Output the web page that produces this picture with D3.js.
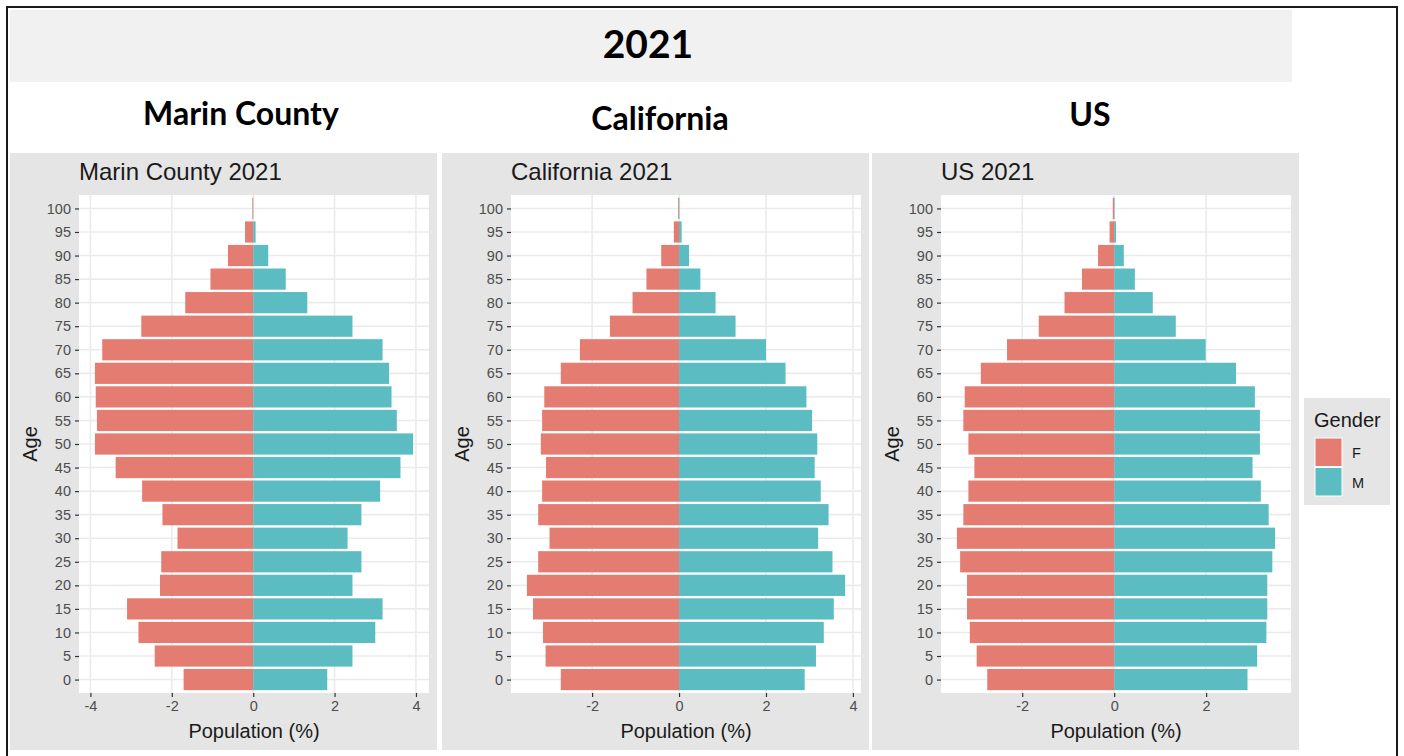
<!DOCTYPE html>
<html>
<head>
<meta charset="utf-8">
<script src="https://cdn.jsdelivr.net/npm/d3@7"></script>
<style>
  body { margin: 0; background: #fff; }
  text { font-family: "Liberation Sans", Arial, sans-serif; }
</style>
</head>
<body>
<div id="chart"></div>
<script>
var width  = 1404;
var height = 756;

// ------------- data: % of population per 5-year age group -------------
var year    = "2021";
var regions = ["Marin County", "California", "US"];
var genders = ["F", "M"];
var ages    = [0, 5, 10, 15, 20, 25, 30, 35, 40, 45, 50, 55, 60, 65, 70, 75, 80, 85, 90, 95, 100];

var marinF = [1.71, 2.42, 2.82, 3.10, 2.29, 2.26, 1.86, 2.23, 2.73, 3.38, 3.89, 3.84, 3.87, 3.89, 3.71, 2.75, 1.67, 1.05, 0.62, 0.20, 0.02];
var marinM = [1.82, 2.44, 3.00, 3.18, 2.44, 2.66, 2.32, 2.66, 3.12, 3.62, 3.93, 3.53, 3.40, 3.34, 3.18, 2.44, 1.33, 0.80, 0.37, 0.06, 0.005];

var californiaF = [2.72, 3.07, 3.13, 3.36, 3.50, 3.24, 2.98, 3.24, 3.15, 3.06, 3.18, 3.15, 3.10, 2.72, 2.28, 1.59, 1.07, 0.75, 0.41, 0.12, 0.02];
var californiaM = [2.89, 3.15, 3.33, 3.56, 3.82, 3.53, 3.20, 3.44, 3.26, 3.12, 3.18, 3.06, 2.93, 2.45, 2.00, 1.30, 0.84, 0.49, 0.23, 0.06, 0.01];

var usF = [2.76, 2.99, 3.14, 3.20, 3.20, 3.35, 3.42, 3.28, 3.17, 3.04, 3.17, 3.28, 3.25, 2.90, 2.33, 1.64, 1.08, 0.70, 0.35, 0.10, 0.03];
var usM = [2.90, 3.11, 3.31, 3.33, 3.33, 3.44, 3.50, 3.36, 3.19, 3.01, 3.17, 3.17, 3.06, 2.65, 1.99, 1.34, 0.84, 0.45, 0.21, 0.04, 0.01];

var xTickValues = [-4, -2, 0, 2, 4];

var seriesF = [marinF, californiaF, usF];
var seriesM = [marinM, californiaM, usM];

// ------------- layout -------------
var colorF = "#e47c71";
var colorM = "#5bbcc2";
var panelLeft  = [10, 442, 872];
var panelTop   = 153;
var panelWidth = 427;
var plotOffset = 69;     // gray edge -> white plot area
var plotWidth  = 350;
var plotTop    = 195;
var plotBottom = 693;

var svg = d3.select("#chart").append("svg")
    .attr("width", width)
    .attr("height", height);

// title band
svg.append("rect")
    .attr("x", 10).attr("y", 10)
    .attr("width", 1282).attr("height", 72)
    .attr("fill", "#f1f1f1");

svg.append("text")
    .attr("x", 648).attr("y", 58)
    .attr("text-anchor", "middle")
    .style("font-family", "Lato, sans-serif")
    .style("font-weight", "bold")
    .style("font-size", "39px")
    .attr("fill", "#000")
    .text(year);

// region headings
var headings = [
  {label: regions[0], x: 241, y: 125},
  {label: regions[1], x: 660, y: 130},
  {label: regions[2], x: 1090, y: 126}
];
svg.selectAll("text.heading")
    .data(headings)
    .enter()
  .append("text")
    .attr("class", "heading")
    .attr("x", function(d){ return d.x; })
    .attr("y", function(d){ return d.y; })
    .attr("text-anchor", "middle")
    .style("font-family", "Lato, sans-serif")
    .style("font-weight", "bold")
    .style("font-size", "32px")
    .attr("fill", "#000")
    .text(function(d){ return d.label; });

// shared y scale (age)
var yScale = d3.scaleLinear()
    .domain([-2.85, 102.85])
    .range([plotBottom, plotTop]);
var barHalf = 2.25;   // 0.9 of a 5-year band

for (var p = 0; p < 3; p++) {
  var left = panelLeft[p];
  var fVals = seriesF[p];
  var mVals = seriesM[p];

  var lo = -d3.max(fVals), hi = d3.max(mVals);
  var pad = (hi - lo) * 0.05;
  var xScale = d3.scaleLinear()
      .domain([lo - pad, hi + pad])
      .range([left + plotOffset, left + plotOffset + plotWidth]);
  var ticks = xTickValues.filter(function(t){ return t >= lo - pad && t <= hi + pad; });

  var g = svg.append("g");

  g.append("rect")
      .attr("x", left).attr("y", panelTop)
      .attr("width", panelWidth).attr("height", 597)
      .attr("fill", "#e5e5e5");

  g.append("rect")
      .attr("x", left + plotOffset).attr("y", plotTop)
      .attr("width", plotWidth).attr("height", plotBottom - plotTop)
      .attr("fill", "#fff");

  // gridlines
  g.selectAll("line.hgrid")
      .data(ages)
      .enter()
    .append("line")
      .attr("x1", left + plotOffset).attr("x2", left + plotOffset + plotWidth)
      .attr("y1", function(d){ return yScale(d); })
      .attr("y2", function(d){ return yScale(d); })
      .attr("stroke", "#ebebeb").attr("stroke-width", 1.6);

  g.selectAll("line.vgrid")
      .data(ticks)
      .enter()
    .append("line")
      .attr("y1", plotTop).attr("y2", plotBottom)
      .attr("x1", function(d){ return xScale(d); })
      .attr("x2", function(d){ return xScale(d); })
      .attr("stroke", "#ebebeb").attr("stroke-width", 1.6);

  // bars
  g.selectAll("rect.barF")
      .data(ages)
      .enter()
    .append("rect")
      .attr("x", function(d, i){ return xScale(-fVals[i]); })
      .attr("width", function(d, i){ return xScale(0) - xScale(-fVals[i]); })
      .attr("y", function(d){ return yScale(d + barHalf); })
      .attr("height", function(d){ return yScale(d - barHalf) - yScale(d + barHalf); })
      .attr("fill", colorF);

  g.selectAll("rect.barM")
      .data(ages)
      .enter()
    .append("rect")
      .attr("x", xScale(0))
      .attr("width", function(d, i){ return xScale(mVals[i]) - xScale(0); })
      .attr("y", function(d){ return yScale(d + barHalf); })
      .attr("height", function(d){ return yScale(d - barHalf) - yScale(d + barHalf); })
      .attr("fill", colorM);

  // axes
  var xAxis = g.append("g")
      .attr("transform", "translate(0," + plotBottom + ")")
      .call(d3.axisBottom(xScale).tickValues(ticks).tickSize(4).tickPadding(4).tickFormat(d3.format("d")));
  var yAxis = g.append("g")
      .attr("transform", "translate(" + (left + plotOffset) + ",0)")
      .call(d3.axisLeft(yScale).tickValues(ages).tickSize(4).tickPadding(4));

  [xAxis, yAxis].forEach(function(a){
    a.select(".domain").remove();
    a.selectAll(".tick line").attr("stroke", "#333").attr("stroke-width", 1.2);
    a.selectAll(".tick text")
        .attr("fill", "#4d4d4d")
        .style("font-size", "14.5px")
        .style("font-family", "'Liberation Sans', Arial, sans-serif");
  });
  xAxis.selectAll(".tick text").text(function(d){ return d < 0 ? "-" + Math.abs(d) : d; });

  // titles
  g.append("text")
      .attr("x", left + 69).attr("y", 180)
      .style("font-size", "24px")
      .attr("fill", "#1a1a1a")
      .text(regions[p] + " " + year);

  g.append("text")
      .attr("x", left + plotOffset + plotWidth / 2).attr("y", 738)
      .attr("text-anchor", "middle")
      .style("font-size", "20px")
      .attr("fill", "#1a1a1a")
      .text("Population (%)");

  g.append("text")
      .attr("transform", "translate(" + (left + 27) + "," + ((plotTop + plotBottom) / 2) + ") rotate(-90)")
      .attr("text-anchor", "middle")
      .style("font-size", "20px")
      .attr("fill", "#1a1a1a")
      .text("Age");
}

// ------------- legend -------------
var legend = svg.append("g");
legend.append("rect")
    .attr("x", 1304).attr("y", 398)
    .attr("width", 86).attr("height", 107)
    .attr("fill", "#e5e5e5");
legend.append("text")
    .attr("x", 1314).attr("y", 427)
    .style("font-size", "20px")
    .attr("fill", "#1a1a1a")
    .text("Gender");
legend.selectAll("rect.key")
    .data(genders)
    .enter()
  .append("rect")
    .attr("x", 1315)
    .attr("y", function(d, i){ return 438 + i * 29.5; })
    .attr("width", 27).attr("height", 28.5)
    .attr("fill", function(d){ return d == "F" ? colorF : colorM; })
    .attr("stroke", "#fff").attr("stroke-width", 1);
legend.selectAll("text.key")
    .data(genders)
    .enter()
  .append("text")
    .attr("x", 1352)
    .attr("y", function(d, i){ return 458 + i * 29.5; })
    .style("font-size", "14.5px")
    .attr("fill", "#1a1a1a")
    .text(function(d){ return d; });

// outer frame
svg.append("rect")
    .attr("x", 7).attr("y", 7)
    .attr("width", 1390).attr("height", 760)
    .attr("fill", "none")
    .attr("stroke", "#1a1a1a")
    .attr("stroke-width", 2);
</script>
</body>
</html>
